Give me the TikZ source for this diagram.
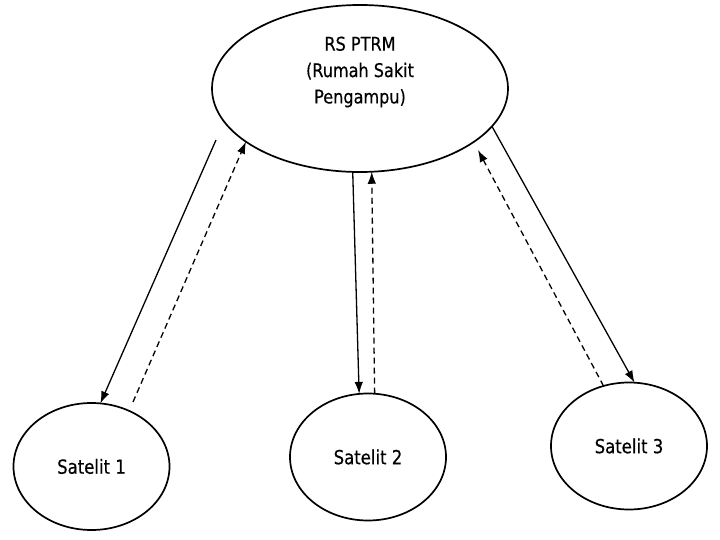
\documentclass[tikz,border=0pt]{standalone}
\usepackage{fontspec}
\newfontfamily\diagfont{DejaVu Sans}[FakeStretch=0.85, FakeBold=0.4]
\usepackage{tikz}
\usetikzlibrary{shapes.geometric, arrows.meta}
\tikzstyle{hub} = [ellipse, draw=black, line width=1.7bp, minimum width=296bp, minimum height=167bp, inner sep=0pt, outer sep=0pt]
\tikzstyle{hubtext} = [align=center, font=\diagfont\fontsize{19}{26.5}\selectfont]
\tikzstyle{satelit} = [ellipse, draw=black, line width=1.7bp, minimum width=156bp, minimum height=127bp, inner sep=0pt, outer sep=0pt, font=\diagfont\fontsize{19.5}{24}\selectfont]
\tikzstyle{send} = [line width=1.3bp, -{Latex[length=12bp,width=8.5bp]}]
\tikzstyle{reply} = [send, dash pattern=on 6bp off 4bp]

\begin{document}
\begin{tikzpicture}[x=1bp, y=-1bp]
    \useasboundingbox (0,0) rectangle (720,540);
    \node (rs) [hub] at (360,88.5) {};
    \node (rs_text) [hubtext] at (360,72) {RS PTRM\\(Rumah Sakit\\Pengampu)};
    \node (s1) [satelit] at (91.5,466.5) {Satelit 1};
    \node (s2) [satelit] at (368,457) {Satelit 2};
    \node (s3) [satelit] at (629,446) {Satelit 3};
    % free ends that stop short of an ellipse
    \coordinate (s1_out) at (216,140);
    \coordinate (s1_back) at (133,402);
    \coordinate (s3_back) at (478,150);
    \draw [send] (s1_out) -- (s1.82);
    \draw [reply] (s1_back) -- (rs.205.7);
    \draw [send] (rs.265) -- (s2.98);
    \draw [reply] (s2.84) -- (rs.278);
    \draw [send] (rs.344) -- (s3.85);
    \draw [reply] (s3.113) -- (s3_back);
\end{tikzpicture}
\end{document}
